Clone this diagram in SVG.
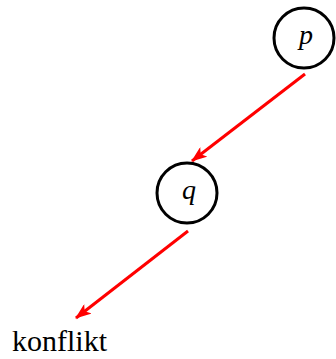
<svg xmlns="http://www.w3.org/2000/svg" width="336" height="359" viewBox="0 0 336 359">
<style>
.node circle{fill:#fff;stroke:#000;stroke-width:3}
.lbl{font-family:"Liberation Serif",serif;font-style:italic;font-size:28px;text-anchor:middle}
.txt{font-family:"Liberation Serif",serif;font-size:30px}
.edge{stroke:#f00;stroke-width:3;fill:none}
</style>
<defs>
<marker id="ah" markerWidth="16" markerHeight="12" refX="15" refY="6" orient="auto" markerUnits="userSpaceOnUse" viewBox="0 0 16 12">
<path d="M0,0 L16,6 L0,12 L4,6 Z" fill="#f00"/>
</marker>
</defs>
<g id="connectors">
<line class="edge" x1="305" y1="74" x2="192" y2="161" marker-end="url(#ah)"/>
<line class="edge" x1="188" y1="231" x2="76" y2="318" marker-end="url(#ah)"/>
</g>
<g id="p" class="node">
<circle cx="304" cy="38" r="30"/>
<text class="lbl" x="306" y="44">p</text>
</g>
<g id="q" class="node">
<circle cx="187" cy="193" r="30"/>
<text class="lbl" x="189" y="199">q</text>
</g>
<g id="konflikt">
<text class="txt" x="12" y="351">konflikt</text>
</g>
</svg>
